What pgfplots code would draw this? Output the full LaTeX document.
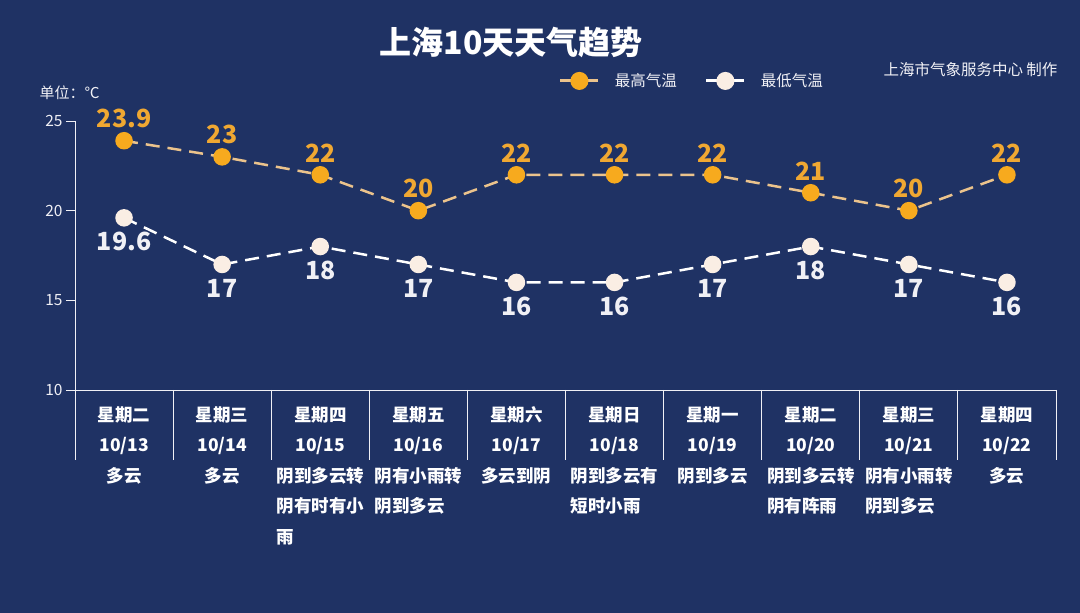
\documentclass[border=0pt]{standalone}
\usepackage{pgfplots}
\pgfplotsset{compat=1.18}
\usepackage{fontspec}
\setmainfont{Noto Sans CJK SC}
\definecolor{bg}{RGB}{31,50,100}
\definecolor{hiline}{RGB}{235,195,140}
\definecolor{himark}{RGB}{247,170,30}
\definecolor{hitext}{RGB}{240,168,50}
\definecolor{lomark}{RGB}{250,238,228}
\definecolor{txt}{RGB}{240,240,245}
\pgfplotstableread{
x hi lo
0 23.9 19.6
1 23 17
2 22 18
3 20 17
4 22 16
5 22 16
6 22 17
7 21 18
8 20 17
9 22 16
}\temps
\begin{document}
\begin{tikzpicture}
\fill[bg] (0pt,0pt) rectangle (1080pt,613pt);
\node[text=white,font=\bfseries\fontsize{32}{34}\selectfont] at (511pt,571pt) {上海10天天气趋势};
\node[text=txt,font=\fontsize{15.5}{17}\selectfont,anchor=east] at (1061pt,543pt) {上海市气象服务中心 制作};
\node[text=txt,font=\fontsize{15}{16}\selectfont,anchor=west] at (36pt,520pt) {单位：℃};
\begin{axis}[
  at={(75pt,223pt)}, anchor=south west,
  scale only axis, width=981pt, height=269pt,
  xmin=-0.5, xmax=9.5, ymin=10, ymax=25,
  axis line style={draw=none},
  ytick={10,15,20,25},
  yticklabels={10,15,20,25},
  ytick pos=left,
  xtick pos=left,
  y tick label style={font=\fontsize{15.5}{16}\selectfont, text=txt},
  ytick style={draw=txt, line width=0.9pt},
  tick align=outside,
  major tick length=9pt,
  xtick={0,1,2,3,4,5,6,7,8,9},
  xtick style={draw=none},
  xticklabels={
    {星期二\\10/13\\多云},
    {星期三\\10/14\\多云},
    {星期四\\10/15\\阴到多云转\\阴有时有小\\雨\hphantom{阴有时有}},
    {星期五\\10/16\\阴有小雨转\\阴到多云\hphantom{转}},
    {星期六\\10/17\\多云到阴},
    {星期日\\10/18\\阴到多云有\\短时小雨\hphantom{有}},
    {星期一\\10/19\\阴到多云},
    {星期二\\10/20\\阴到多云转\\阴有阵雨\hphantom{转}},
    {星期三\\10/21\\阴有小雨转\\阴到多云\hphantom{转}},
    {星期四\\10/22\\多云}},
  x tick label style={align=center, text=white, font=\bfseries\fontsize{17.5}{30.5}\selectfont, anchor=north, yshift=-4pt},
  clip=false,
  legend columns=2,
  legend style={at={(0.49,1.149)}, anchor=west, draw=none, fill=none,
    text=txt, font=\fontsize{15.5}{16}\selectfont,
    /tikz/every odd column/.append style={column sep=13pt},
    /tikz/every even column/.append style={column sep=26pt}},
  legend image code/.code={\draw[mark repeat=2,mark phase=2,#1,solid,line width=3pt] plot coordinates {(0pt,0pt) (19pt,0pt) (38pt,0pt)};},
]
\draw[txt, line width=0.9pt] (axis cs:-0.5,25) -- (axis cs:-0.5,10) -- (axis cs:9.5,10);
\draw[txt, line width=0.9pt] (axis cs:-0.5,10) -- ++(0pt,-70pt);
\draw[txt, line width=0.9pt] (axis cs:0.5,10) -- ++(0pt,-70pt);
\draw[txt, line width=0.9pt] (axis cs:1.5,10) -- ++(0pt,-70pt);
\draw[txt, line width=0.9pt] (axis cs:2.5,10) -- ++(0pt,-70pt);
\draw[txt, line width=0.9pt] (axis cs:3.5,10) -- ++(0pt,-70pt);
\draw[txt, line width=0.9pt] (axis cs:4.5,10) -- ++(0pt,-70pt);
\draw[txt, line width=0.9pt] (axis cs:5.5,10) -- ++(0pt,-70pt);
\draw[txt, line width=0.9pt] (axis cs:6.5,10) -- ++(0pt,-70pt);
\draw[txt, line width=0.9pt] (axis cs:7.5,10) -- ++(0pt,-70pt);
\draw[txt, line width=0.9pt] (axis cs:8.5,10) -- ++(0pt,-70pt);
\draw[txt, line width=0.9pt] (axis cs:9.5,10) -- ++(0pt,-70pt);
\addplot[hiline, line width=2.5pt, dash pattern=on 14pt off 8pt,
  mark=*, mark size=7.5pt, mark options={solid, fill=himark, draw=himark},
  nodes near coords, point meta=explicit symbolic,
  every node near coord/.append style={text=hitext, font=\bfseries\fontsize{25}{26}\selectfont, anchor=south, yshift=8pt}]
  table[x=x, y=hi, meta=hi] {\temps};
\addlegendentry{最高气温}
\addplot[white, line width=2.5pt, dash pattern=on 14pt off 8pt,
  mark=*, mark size=7.5pt, mark options={solid, fill=lomark, draw=lomark},
  nodes near coords, point meta=explicit symbolic,
  every node near coord/.append style={text=txt, font=\bfseries\fontsize{25}{26}\selectfont, anchor=north, yshift=-10pt}]
  table[x=x, y=lo, meta=lo] {\temps};
\addlegendentry{最低气温}
\end{axis}
\end{tikzpicture}
\end{document}
